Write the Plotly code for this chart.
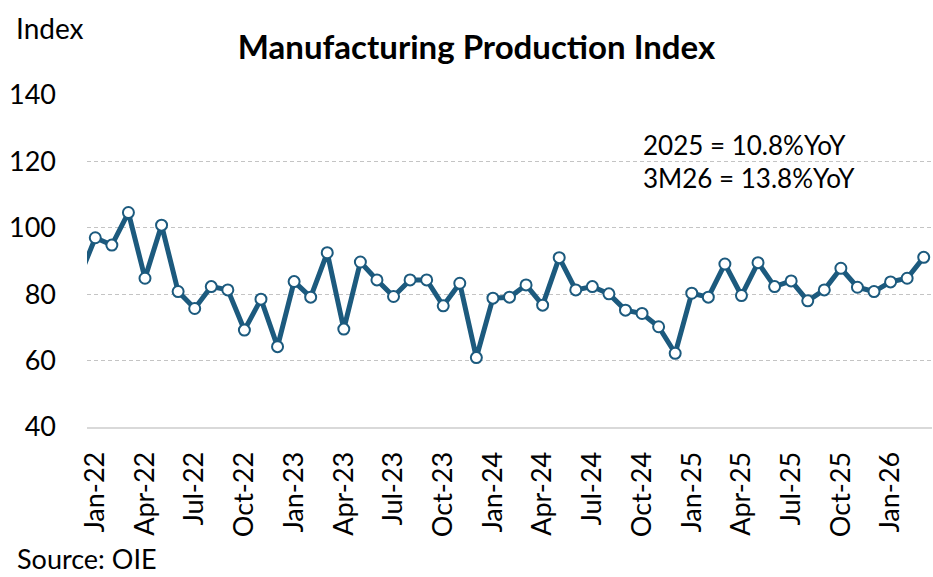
import plotly.graph_objects as go

months = ["Dec-21",
          "Jan-22", "Feb-22", "Mar-22", "Apr-22", "May-22", "Jun-22", "Jul-22", "Aug-22", "Sep-22", "Oct-22", "Nov-22", "Dec-22",
          "Jan-23", "Feb-23", "Mar-23", "Apr-23", "May-23", "Jun-23", "Jul-23", "Aug-23", "Sep-23", "Oct-23", "Nov-23", "Dec-23",
          "Jan-24", "Feb-24", "Mar-24", "Apr-24", "May-24", "Jun-24", "Jul-24", "Aug-24", "Sep-24", "Oct-24", "Nov-24", "Dec-24",
          "Jan-25", "Feb-25", "Mar-25", "Apr-25", "May-25", "Jun-25", "Jul-25", "Aug-25", "Sep-25", "Oct-25", "Nov-25", "Dec-25",
          "Jan-26", "Feb-26", "Mar-26"]

index_values = [84.6,
                97.0, 94.8, 104.6, 84.8, 100.8, 80.8, 75.7, 82.3, 81.3, 69.2, 78.5, 64.2,
                83.8, 79.1, 92.5, 69.5, 89.7, 84.3, 79.3, 84.3, 84.3, 76.5, 83.3, 60.9,
                78.8, 79.1, 82.8, 76.7, 91.0, 81.3, 82.3, 80.1, 75.2, 74.2, 70.2, 62.2,
                80.3, 79.1, 89.1, 79.6, 89.5, 82.3, 84.0, 78.0, 81.3, 87.8, 82.1, 80.8,
                83.7, 84.8, 91.1]

tick_labels = ["Jan-22", "Apr-22", "Jul-22", "Oct-22", "Jan-23", "Apr-23", "Jul-23", "Oct-23",
               "Jan-24", "Apr-24", "Jul-24", "Oct-24", "Jan-25", "Apr-25", "Jul-25", "Oct-25", "Jan-26"]

y_ticks = [40, 60, 80, 100, 120, 140]

notes = ["2025 = 10.8%YoY", "3M26 = 13.8%YoY"]

FONT = "Lato"
LINE = "#1C5A7E"

fig = go.Figure()
fig.add_trace(go.Scatter(
    x=months, y=index_values, mode="lines+markers",
    line=dict(color=LINE, width=5),
    marker=dict(size=11, color="white", line=dict(color=LINE, width=2)),
    showlegend=False,
))

fig.update_layout(
    width=933, height=577,
    margin=dict(l=87, r=1, t=95, b=150),
    paper_bgcolor="white", plot_bgcolor="white",
    font=dict(family=FONT, color="black"),
    title=dict(text="<b>Manufacturing Production Index</b>", x=476.5 / 933, xanchor="center",
               y=1 - 47 / 577, yanchor="middle", font=dict(size=33, family=FONT, color="black")),
)

fig.update_xaxes(
    type="category", categoryorder="array", categoryarray=months,
    range=[0.5, len(months) - 0.5],
    tickmode="array", tickvals=tick_labels, ticktext=tick_labels,
    tickangle=-90, tickfont=dict(size=27, family=FONT),
    showgrid=False, showline=True, linecolor="#d9d9d9", linewidth=2,
    ticks="", ticklabelstandoff=12,
)
fig.update_yaxes(
    range=[40, 140], tickvals=y_ticks,
    tickfont=dict(size=27, family=FONT),
    showgrid=True, gridcolor="#c4c4c4", gridwidth=1, griddash="4px,3px",
    zeroline=False, showline=False, ticks="", ticklabelstandoff=30,
)

fig.add_annotation(text="Index", xref="paper", yref="paper", x=(14 - 87) / 845, y=(427 - 28) / 332,
                   xanchor="left", yanchor="middle", showarrow=False, font=dict(size=28, family=FONT))
fig.add_annotation(text="Source: OIE", xref="paper", yref="paper", x=(15 - 87) / 845, y=(427 - 558) / 332,
                   xanchor="left", yanchor="middle", showarrow=False, font=dict(size=27, family=FONT))
for i, t in enumerate(notes):
    fig.add_annotation(text=t, xref="paper", yref="paper", x=(641 - 87) / 845, y=(427 - (145 + 33 * i)) / 332,
                       xanchor="left", yanchor="middle", showarrow=False, font=dict(size=26, family=FONT))

fig.write_html("out.html", config={"displayModeBar": False},
               post_script="document.body.style.margin='0';document.body.style.overflow='hidden';")
